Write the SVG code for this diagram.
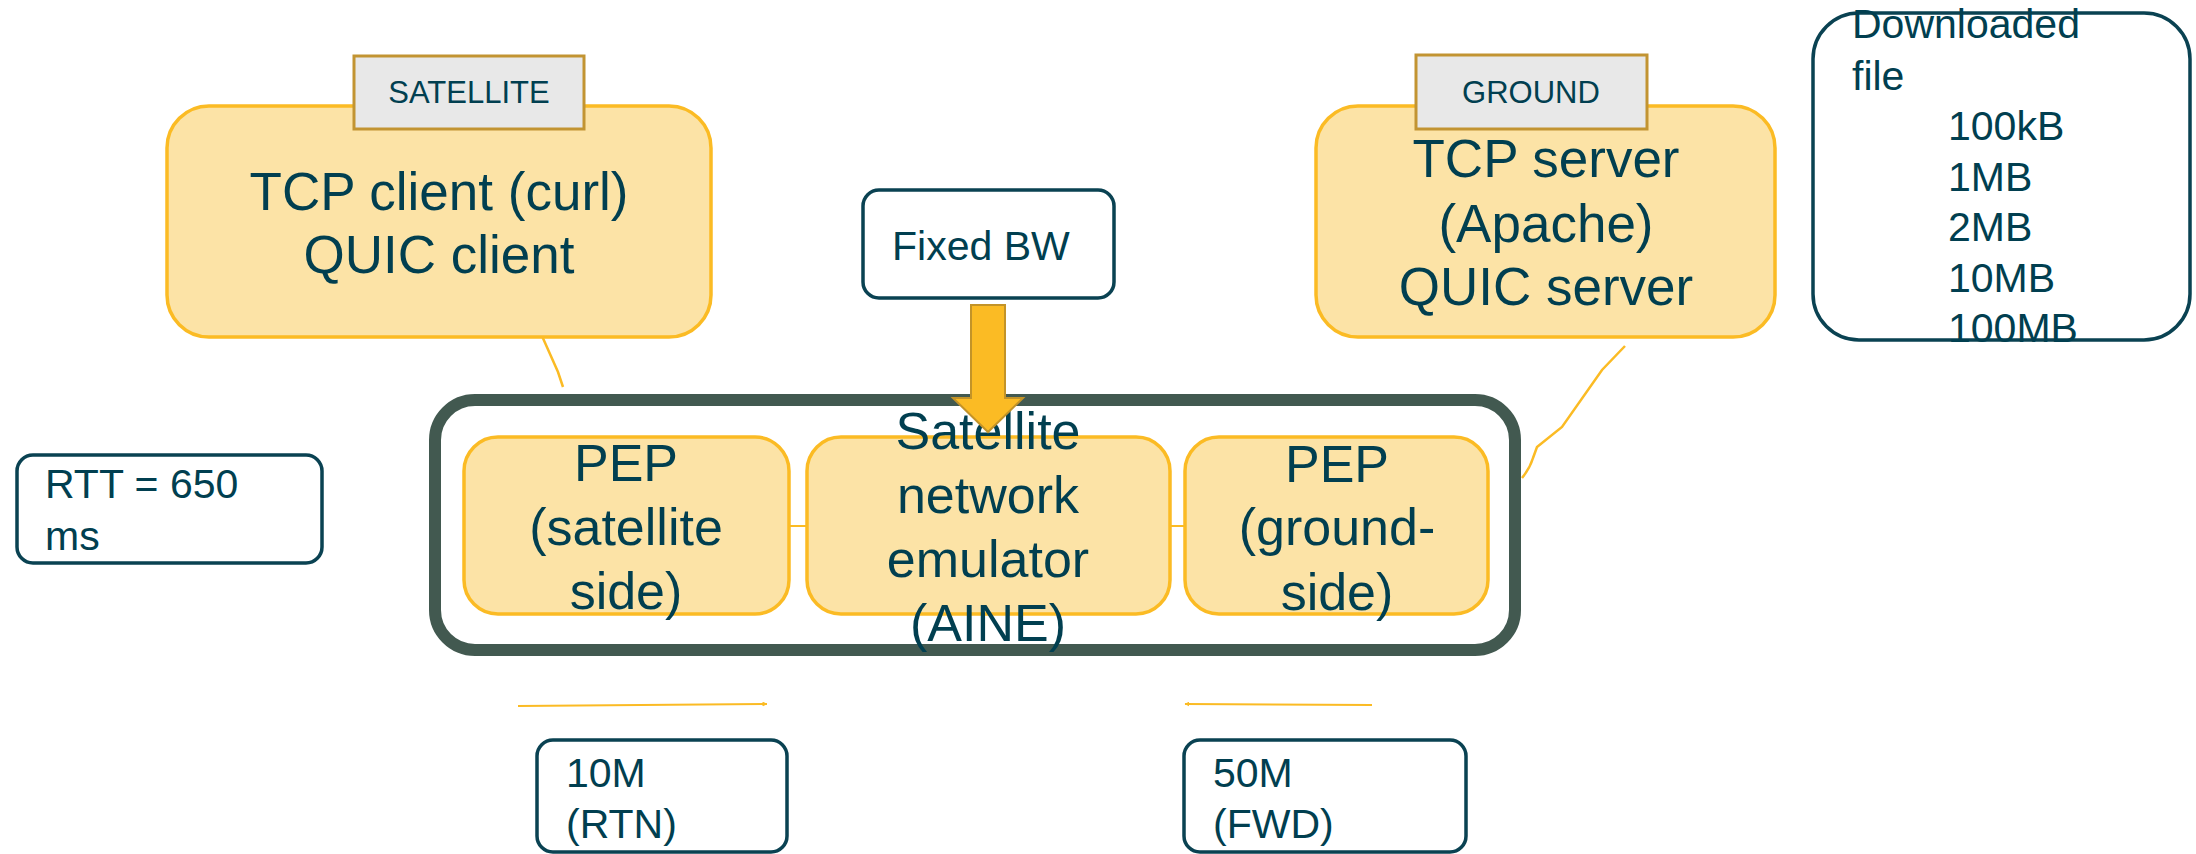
<svg xmlns="http://www.w3.org/2000/svg" width="2196" height="854" viewBox="0 0 2196 854">
<style>
text{font-family:"Liberation Sans",Arial,sans-serif;fill:#013F50}
.big{font-size:53px;text-anchor:middle}
.mid{font-size:52px;text-anchor:middle}
.sm{font-size:41px}
.tag{font-size:31px;text-anchor:middle}
.ob{fill:#FCE3A6;stroke:#FBBB24;stroke-width:3.5}
.tg{fill:#E8E8E8;stroke:#C29432;stroke-width:3}
.nb{fill:#FFFFFF;stroke:#0A4252;stroke-width:3.5}
.ln{fill:none;stroke:#FBBB24;stroke-width:2.5}
.thin{fill:none;stroke:#FBBB24;stroke-width:2}
</style>
<defs>
<marker id="ah" viewBox="0 0 10 10" refX="9" refY="5" markerWidth="5" markerHeight="5" orient="auto" markerUnits="userSpaceOnUse">
<path d="M0,0 L10,5 L0,10 z" fill="#FBBB24"/>
</marker>
</defs>

<g id="frame">
<rect x="435" y="400" width="1080" height="250" rx="40" fill="none" stroke="#425950" stroke-width="12"/>
</g>

<g id="connectors">
<path class="ln" d="M542,336 L558,372 L563,387"/>
<path class="ln" d="M1625,346 L1602,370 L1562,427 L1537,447 L1533,458 Q1530,468 1522,478"/>
<line class="thin" x1="789" y1="526" x2="807" y2="526"/>
<line class="thin" x1="1170" y1="526" x2="1185" y2="526"/>
<line class="thin" x1="518" y1="706" x2="767" y2="704" marker-end="url(#ah)"/>
<line class="thin" x1="1372" y1="705" x2="1185" y2="704" marker-end="url(#ah)"/>
</g>

<g id="client">
<rect class="ob" x="167" y="106" width="544" height="231" rx="42"/>
<text class="big" x="439" y="210">TCP client (curl)</text>
<text class="big" x="439" y="273">QUIC client</text>
</g>
<g id="satellite-tag">
<rect class="tg" x="354" y="56" width="230" height="73"/>
<text class="tag" x="469" y="103">SATELLITE</text>
</g>

<g id="server">
<rect class="ob" x="1316" y="106" width="459" height="231" rx="42"/>
<text class="big" x="1546" y="177">TCP server</text>
<text class="big" x="1546" y="242">(Apache)</text>
<text class="big" x="1546" y="305">QUIC server</text>
</g>
<g id="ground-tag">
<rect class="tg" x="1416" y="55" width="231" height="74"/>
<text class="tag" x="1531" y="103">GROUND</text>
</g>

<g id="fixed-bw">
<rect class="nb" x="863" y="190" width="251" height="108" rx="16"/>
<text class="sm" x="892" y="260">Fixed BW</text>
</g>

<g id="downloaded">
<rect class="nb" x="1813" y="13" width="377" height="327" rx="46" fill="none"/>
<text class="sm" x="1852" y="38">Downloaded</text>
<text class="sm" x="1852" y="90">file</text>
<text class="sm" x="1948" y="140">100kB</text>
<text class="sm" x="1948" y="191">1MB</text>
<text class="sm" x="1948" y="241">2MB</text>
<text class="sm" x="1948" y="292">10MB</text>
<text class="sm" x="1948" y="342">100MB</text>
</g>

<g id="rtt">
<rect class="nb" x="17" y="455" width="305" height="108" rx="16"/>
<text class="sm" x="45" y="498">RTT = 650</text>
<text class="sm" x="45" y="550">ms</text>
</g>

<g id="pep-sat">
<rect class="ob" x="464" y="437" width="325" height="177" rx="34"/>
<text class="mid" x="626" y="481">PEP</text>
<text class="mid" x="626" y="545">(satellite</text>
<text class="mid" x="626" y="609">side)</text>
</g>

<g id="emulator">
<rect class="ob" x="807" y="437" width="363" height="177" rx="34"/>
<text class="mid" x="988" y="449">Satellite</text>
<text class="mid" x="988" y="513">network</text>
<text class="mid" x="988" y="577">emulator</text>
<text class="mid" x="988" y="641">(AINE)</text>
</g>

<g id="pep-ground">
<rect class="ob" x="1185" y="437" width="303" height="177" rx="34"/>
<text class="mid" x="1337" y="482">PEP</text>
<text class="mid" x="1337" y="545">(ground-</text>
<text class="mid" x="1337" y="610">side)</text>
</g>

<g id="bw-arrow">
<polygon points="971,305 1005,305 1005,398 1023,398 988,432 953,398 971,398" fill="#FBBB24" stroke="#C39328" stroke-width="2"/>
</g>

<g id="rtn">
<rect class="nb" x="537" y="740" width="250" height="112" rx="16"/>
<text class="sm" x="566" y="787">10M</text>
<text class="sm" x="566" y="838">(RTN)</text>
</g>

<g id="fwd">
<rect class="nb" x="1184" y="740" width="282" height="112" rx="16"/>
<text class="sm" x="1213" y="787">50M</text>
<text class="sm" x="1213" y="838">(FWD)</text>
</g>
</svg>
